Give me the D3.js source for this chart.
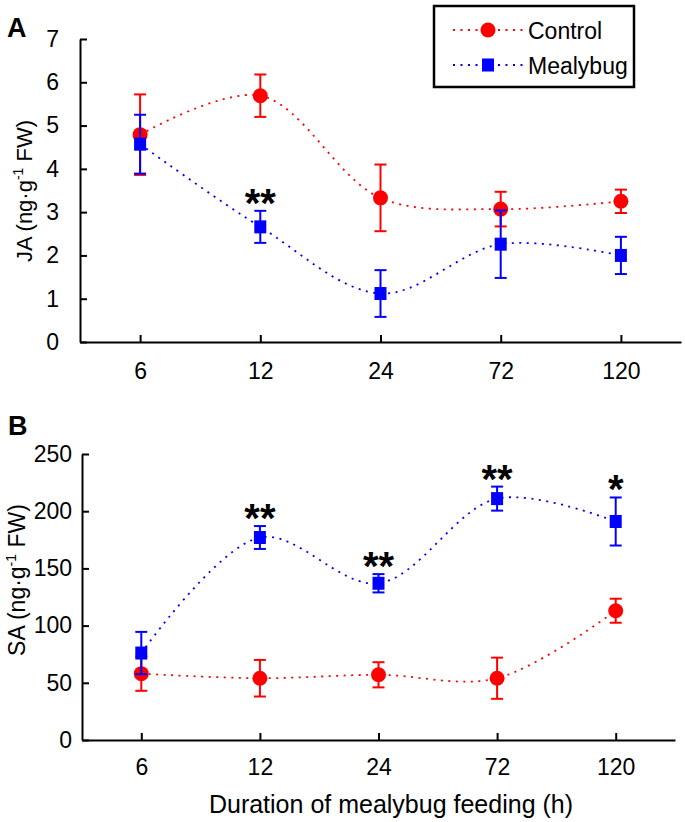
<!DOCTYPE html>
<html>
<head>
<meta charset="utf-8">
<script src="https://cdn.jsdelivr.net/npm/d3@7"></script>
<style>
  body { margin: 0; background: #fff; }
  svg { font-family: Arial, "Liberation Sans", sans-serif; }
</style>
</head>
<body>
<svg width="685" height="822"></svg>
<script>
const hours = ["6", "12", "24", "72", "120"];

// Panel A: JA
const jaControl = [4.79, 5.69, 3.33, 3.07, 3.25];
const jaControlErr = [0.93, 0.49, 0.77, 0.40, 0.27];
const jaMealybug = [4.57, 2.66, 1.12, 2.26, 2.00];
const jaMealybugErr = [0.68, 0.37, 0.54, 0.78, 0.43];
const jaStars = ["", "**", "", "", ""];
const jaTicks = [0, 1, 2, 3, 4, 5, 6, 7];

// Panel B: SA
const saControl = [58, 54, 57, 54, 113];
const saControlErr = [15, 16, 11, 18, 10.5];
const saMealybug = [76, 177, 137, 211, 191];
const saMealybugErr = [18.5, 10, 8, 10.5, 21];
const saStars = ["", "**", "**", "**", "*"];
const saTicks = [0, 50, 100, 150, 200, 250];

const red = "#ff0000";
const blue = "#0000ff";
const dash = "2,5.5";

const svg = d3.select("svg");

function drawPanel(cfg) {
    const g = svg.append("g");

    const x = d3.scaleLinear()
        .domain([0.5, hours.length + 0.5])
        .range([cfg.left, cfg.right]);
    const y = d3.scaleLinear()
        .domain([0, cfg.yMax])
        .range([cfg.bottom, cfg.top]);

    const xAxis = d3.axisBottom(x)
        .tickValues(d3.range(1, hours.length + 1))
        .tickFormat(i => hours[i - 1])
        .tickSize(-7)
        .tickSizeOuter(0)
        .tickPadding(cfg.xPad);
    const yAxis = d3.axisLeft(y)
        .tickValues(cfg.ticks)
        .tickFormat(d3.format("d"))
        .tickSize(-7)
        .tickSizeOuter(0)
        .tickPadding(cfg.yPad);

    const gx = g.append("g")
        .attr("transform", `translate(0, ${cfg.bottom})`)
        .call(xAxis);
    const gy = g.append("g")
        .attr("transform", `translate(${cfg.left}, 0)`)
        .call(yAxis);

    [gx, gy].forEach(a => {
        a.select(".domain").attr("stroke", "#000").attr("stroke-width", 2);
        a.selectAll(".tick line").attr("stroke", "#000").attr("stroke-width", 2);
        a.selectAll(".tick text")
            .attr("fill", "#000")
            .style("font-size", "23px")
            .style("font-family", "Arial, 'Liberation Sans', sans-serif");
    });

    // y label
    const lab = g.append("text")
        .attr("transform", `translate(${cfg.yLabelX}, ${cfg.yLabelY}) rotate(-90)`)
        .attr("text-anchor", "middle")
        .style("font-size", cfg.yLabelSize + "px")
        .attr("fill", "#000");
    lab.append("tspan").text(cfg.yName + " (ng·g");
    lab.append("tspan").text("-1").attr("dy", -9).style("font-size", "14px");
    lab.append("tspan").text(" FW)").attr("dy", 9);

    // panel letter
    g.append("text")
        .attr("x", cfg.letterX)
        .attr("y", cfg.letterY)
        .style("font-size", "27px")
        .style("font-weight", "bold")
        .text(cfg.letter);

    const line = d3.line()
        .x((d, i) => x(i + 1))
        .y(d => y(d))
        .curve(d3.curveCatmullRom);

    const series = [
        { vals: cfg.control, err: cfg.controlErr, color: red, shape: "circle" },
        { vals: cfg.mealybug, err: cfg.mealybugErr, color: blue, shape: "square" }
    ];

    series.forEach(s => {
        g.append("path")
            .datum(s.vals)
            .attr("d", line)
            .attr("fill", "none")
            .attr("stroke", s.color)
            .attr("stroke-width", 1.8)
            .attr("stroke-dasharray", dash);
    });

    series.forEach(s => {
        const eb = g.append("g");
        s.vals.forEach((v, i) => {
            const cx = x(i + 1);
            const y1 = y(v + s.err[i]);
            const y0 = y(v - s.err[i]);
            eb.append("line").attr("x1", cx).attr("x2", cx).attr("y1", y1).attr("y2", y0);
            eb.append("line").attr("x1", cx - 6).attr("x2", cx + 6).attr("y1", y1).attr("y2", y1);
            eb.append("line").attr("x1", cx - 6).attr("x2", cx + 6).attr("y1", y0).attr("y2", y0);
        });
        eb.selectAll("line").attr("stroke", s.color).attr("stroke-width", 2);

        if (s.shape === "circle") {
            g.append("g").selectAll("circle")
                .data(s.vals)
                .enter()
                .append("circle")
                .attr("cx", (d, i) => x(i + 1))
                .attr("cy", d => y(d))
                .attr("r", 7.5)
                .attr("fill", s.color);
        } else {
            g.append("g").selectAll("rect")
                .data(s.vals)
                .enter()
                .append("rect")
                .attr("x", (d, i) => x(i + 1) - 6)
                .attr("y", d => y(d) - 6.5)
                .attr("width", 12)
                .attr("height", 13)
                .attr("fill", s.color);
        }
    });

    // significance stars above the mealybug error bar
    g.append("g").selectAll("text")
        .data(cfg.stars)
        .enter()
        .append("text")
        .attr("x", (d, i) => x(i + 1))
        .attr("y", (d, i) => y(cfg.mealybug[i] + cfg.mealybugErr[i]) + 6)
        .attr("text-anchor", "middle")
        .style("font-size", "40px")
        .style("font-weight", "bold")
        .text(d => d);

    return { x, y, g };
}

drawPanel({
    left: 80, right: 681, top: 39, bottom: 342,
    yMax: 7, ticks: jaTicks, xPad: 21, yPad: 21,
    yName: "JA", yLabelX: 32, yLabelY: 191, yLabelSize: 22,
    letter: "A", letterX: 7, letterY: 37,
    control: jaControl, controlErr: jaControlErr,
    mealybug: jaMealybug, mealybugErr: jaMealybugErr,
    stars: jaStars
});

drawPanel({
    left: 82, right: 675, top: 454, bottom: 740,
    yMax: 250, ticks: saTicks, xPad: 19, yPad: 10,
    yName: "SA", yLabelX: 25, yLabelY: 580, yLabelSize: 23,
    letter: "B", letterX: 8, letterY: 435,
    control: saControl, controlErr: saControlErr,
    mealybug: saMealybug, mealybugErr: saMealybugErr,
    stars: saStars
});

// x axis title
svg.append("text")
    .attr("x", 391)
    .attr("y", 813)
    .attr("text-anchor", "middle")
    .style("font-size", "25px")
    .text("Duration of mealybug feeding (h)");

// legend
const legend = svg.append("g");
legend.append("rect")
    .attr("x", 434).attr("y", 6)
    .attr("width", 200).attr("height", 81)
    .attr("fill", "#fff")
    .attr("stroke", "#000")
    .attr("stroke-width", 2.5);

const legendItems = [
    { name: "Control", color: red, shape: "circle", y: 30 },
    { name: "Mealybug", color: blue, shape: "square", y: 65 }
];
legendItems.forEach(d => {
    legend.append("line")
        .attr("x1", 453).attr("x2", 523)
        .attr("y1", d.y).attr("y2", d.y)
        .attr("stroke", d.color)
        .attr("stroke-width", 1.8)
        .attr("stroke-dasharray", dash);
    if (d.shape === "circle") {
        legend.append("circle").attr("cx", 488).attr("cy", d.y).attr("r", 7.5).attr("fill", d.color);
    } else {
        legend.append("rect").attr("x", 482).attr("y", d.y - 6.5).attr("width", 12).attr("height", 13).attr("fill", d.color);
    }
    legend.append("text")
        .attr("x", 528)
        .attr("y", d.y + 8.5)
        .style("font-size", "23px")
        .text(d.name);
});
</script>
</body>
</html>
